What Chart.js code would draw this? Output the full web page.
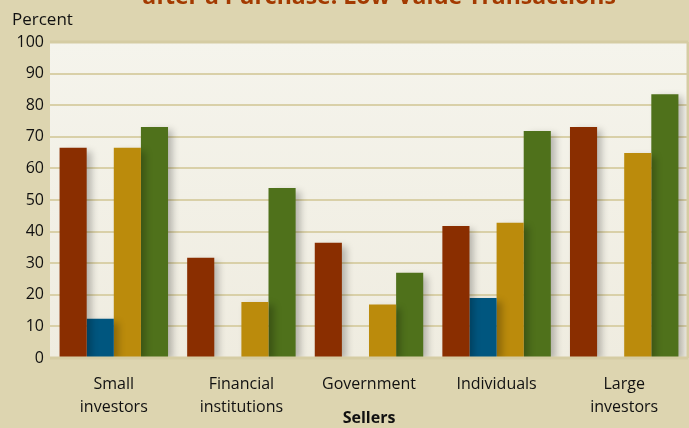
<!DOCTYPE html>
<html>
<head>
<meta charset="utf-8">
<script src="https://cdn.jsdelivr.net/npm/chart.js@4"></script>
<style>
  body { margin: 0; background: #ddd5b0; }
  #wrap { width: 689px; height: 428px; position: relative; }
</style>
</head>
<body>
<div id="wrap"><canvas id="barChart"></canvas></div>
<script>
// data
const categories = [["Small", "investors"], ["Financial", "institutions"], "Government", "Individuals", ["Large", "investors"]];
const redValues = [66.5, 31.7, 36.5, 41.8, 73.1];
const blueValues = [12.4, null, null, 19.0, null];
const goldValues = [66.5, 17.7, 16.9, 42.8, 64.9];
const greenValues = [73.1, 53.8, 27.0, 71.8, 83.5];
const yTicks = [0, 10, 20, 30, 40, 50, 60, 70, 80, 90, 100];

const FONT = "'Open Sans', sans-serif";

// plot background + frame lines + texts outside the axes
const decor = {
    id: "decor",
    beforeDraw(chart) {
        const { ctx, chartArea: a } = chart;
        ctx.save();
        ctx.fillStyle = "#ddd5b0";
        ctx.fillRect(0, 0, chart.width, chart.height);
        const g = ctx.createLinearGradient(0, a.top, 0, a.bottom);
        g.addColorStop(0, "#f5f4ec");
        g.addColorStop(1, "#efece0");
        ctx.fillStyle = g;
        ctx.fillRect(a.left, a.top, a.right - a.left, a.bottom - a.top);
        ctx.restore();
    },
    afterDraw(chart) {
        const { ctx, chartArea: a } = chart;
        ctx.save();
        ctx.strokeStyle = "#d5cca3";
        ctx.lineWidth = 3;
        ctx.beginPath();
        ctx.moveTo(a.left, a.top);
        ctx.lineTo(a.right, a.top);
        ctx.moveTo(a.left, a.bottom);
        ctx.lineTo(a.right, a.bottom);
        ctx.moveTo(a.right, a.top);
        ctx.lineTo(a.right, a.bottom);
        ctx.stroke();

        ctx.fillStyle = "#111";
        ctx.font = "17px " + FONT;
        ctx.textBaseline = "middle";
        ctx.textAlign = "left";
        ctx.fillText("Percent", 12, 20);

        ctx.fillStyle = "#a33a00";
        ctx.font = "bold 23px " + FONT;
        ctx.textAlign = "center";
        ctx.textBaseline = "alphabetic";
        ctx.fillText("after a Purchase: Low-Value Transactions", 379, 4);
        ctx.restore();
    }
};

// soft drop shadow to the right of each bar
const barShadow = {
    id: "barShadow",
    beforeDatasetDraw(chart) {
        const ctx = chart.ctx;
        ctx.save();
        ctx.shadowColor = "rgba(0,0,0,0.25)";
        ctx.shadowBlur = 7;
        ctx.shadowOffsetX = 5;
        ctx.shadowOffsetY = 3;
    },
    afterDatasetDraw(chart) {
        chart.ctx.restore();
    }
};

function makeSet(label, values, color) {
    return {
        label: label,
        data: values,
        backgroundColor: color,
        borderWidth: 0,
        categoryPercentage: 0.85,
        barPercentage: 1.0
    };
}

const barChart = new Chart(document.getElementById("barChart"), {
    type: "bar",
    data: {
        labels: categories,
        datasets: [
            makeSet("Series 1", redValues, "#8a2e00"),
            makeSet("Series 2", blueValues, "#00567f"),
            makeSet("Series 3", goldValues, "#bb8b0c"),
            makeSet("Series 4", greenValues, "#4f711b")
        ]
    },
    options: {
        responsive: true,
        maintainAspectRatio: false,
        animation: false,
        layout: { padding: { top: 42, right: 1, left: 0, bottom: 0 } },
        plugins: {
            legend: { display: false },
            tooltip: { enabled: false }
        },
        scales: {
            x: {
                grid: { display: false, drawTicks: false },
                border: { display: false },
                ticks: {
                    color: "#111",
                    font: { family: FONT, size: 16, lineHeight: 1.45 },
                    padding: 15,
                    maxRotation: 0
                },
                title: {
                    display: true,
                    text: "Sellers",
                    color: "#111",
                    font: { family: FONT, size: 16, weight: "bold" },
                    padding: { top: 0, bottom: 0 }
                },
                afterFit(scale) { scale.height = 70; }
            },
            y: {
                min: 0,
                max: 100,
                afterBuildTicks(scale) {
                    scale.ticks = yTicks.map(v => ({ value: v }));
                },
                grid: { color: "#d9d0a8", lineWidth: 2, drawTicks: false },
                border: { display: false },
                ticks: {
                    color: "#111",
                    font: { family: FONT, size: 16 },
                    padding: 6
                },
                afterFit(scale) { scale.width = 50; }
            }
        }
    },
    plugins: [decor, barShadow]
});
</script>
</body>
</html>
